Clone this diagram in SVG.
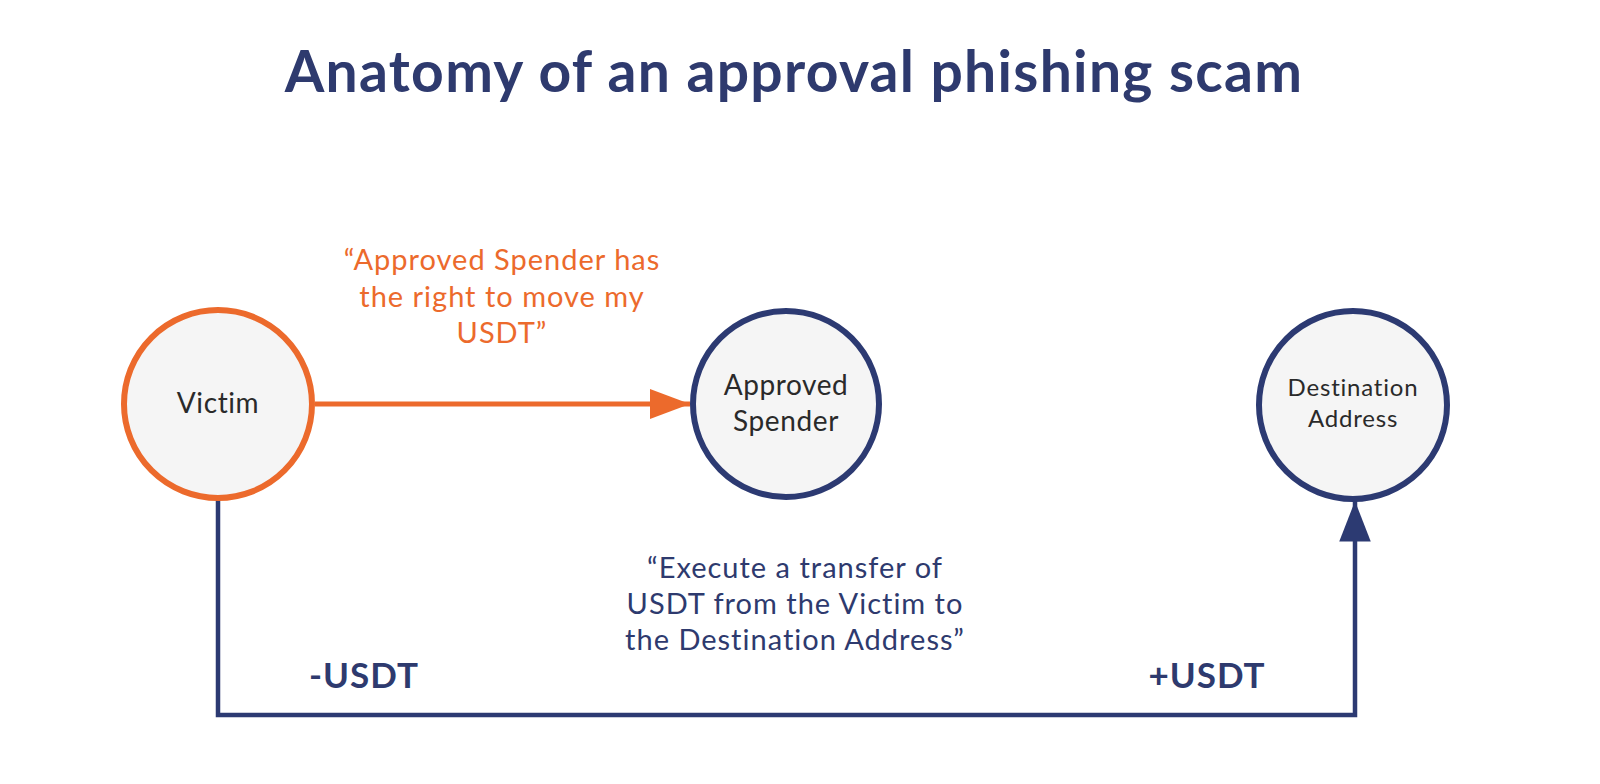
<svg xmlns="http://www.w3.org/2000/svg" width="1600" height="784" viewBox="0 0 1600 784">
<defs>
<style>
text{font-family:Lato,"Open Sans","Liberation Sans",sans-serif;text-anchor:middle}
.title{font-size:57px;font-weight:700;fill:#2E3A6E;letter-spacing:1.3px}
.node circle{fill:#F5F5F5;stroke-width:6}
.navy{stroke:#2C3A72}
.orange{stroke:#EC6A2C}
.nl{fill:#2a2a2a;font-size:28px;letter-spacing:0.6px}
.nd{fill:#2a2a2a;font-size:24px;letter-spacing:0.8px}
.ol{fill:#EC6A2C;font-size:29px;letter-spacing:1px}
.bl{fill:#2E3A6E;font-size:29px;letter-spacing:1px}
.amt{fill:#2E3A6E;font-size:35px;font-weight:700;letter-spacing:1px}
</style>
<marker id="ao" markerWidth="8" markerHeight="6" refX="8" refY="3" orient="auto" markerUnits="strokeWidth"><path d="M0,0L8,3L0,6z" fill="#EC6A2C"/></marker>
<marker id="an" markerWidth="8" markerHeight="8" refX="9" refY="4" orient="auto" markerUnits="strokeWidth"><path d="M0,0.5L9,4L0,7.5z" fill="#2C3A72"/></marker>
</defs>
<rect width="1600" height="784" fill="#fff"/>
<text class="title" x="794" y="92">Anatomy of an approval phishing scam</text>
<g id="connectors">
<line x1="315" y1="404" x2="690" y2="404" class="orange" stroke-width="5" marker-end="url(#ao)"/>
<path d="M218,500V715H1355V501" fill="none" class="navy" stroke-width="4.5" stroke-linejoin="miter" marker-end="url(#an)"/>
</g>
<g id="victim" class="node"><circle cx="218" cy="404" r="94" class="orange"/><text class="nl" x="218" y="413">Victim</text></g>
<g id="spender" class="node"><circle cx="786" cy="404" r="93" class="navy"/><text class="nl" x="786" y="395">Approved</text><text class="nl" x="786" y="431">Spender</text></g>
<g id="destination" class="node"><circle cx="1353" cy="405" r="94" class="navy"/><text class="nd" x="1353" y="396">Destination</text><text class="nd" x="1353" y="427">Address</text></g>
<g id="labels">
<text class="ol" x="502" y="270">“Approved Spender has</text>
<text class="ol" x="502" y="307">the right to move my</text>
<text class="ol" x="502" y="343">USDT”</text>
<text class="bl" x="795" y="578">“Execute a transfer of</text>
<text class="bl" x="795" y="614">USDT from the Victim to</text>
<text class="bl" x="795" y="650">the Destination Address”</text>
<text class="amt" x="364" y="688">-USDT</text>
<text class="amt" x="1207" y="688">+USDT</text>
</g>
</svg>
